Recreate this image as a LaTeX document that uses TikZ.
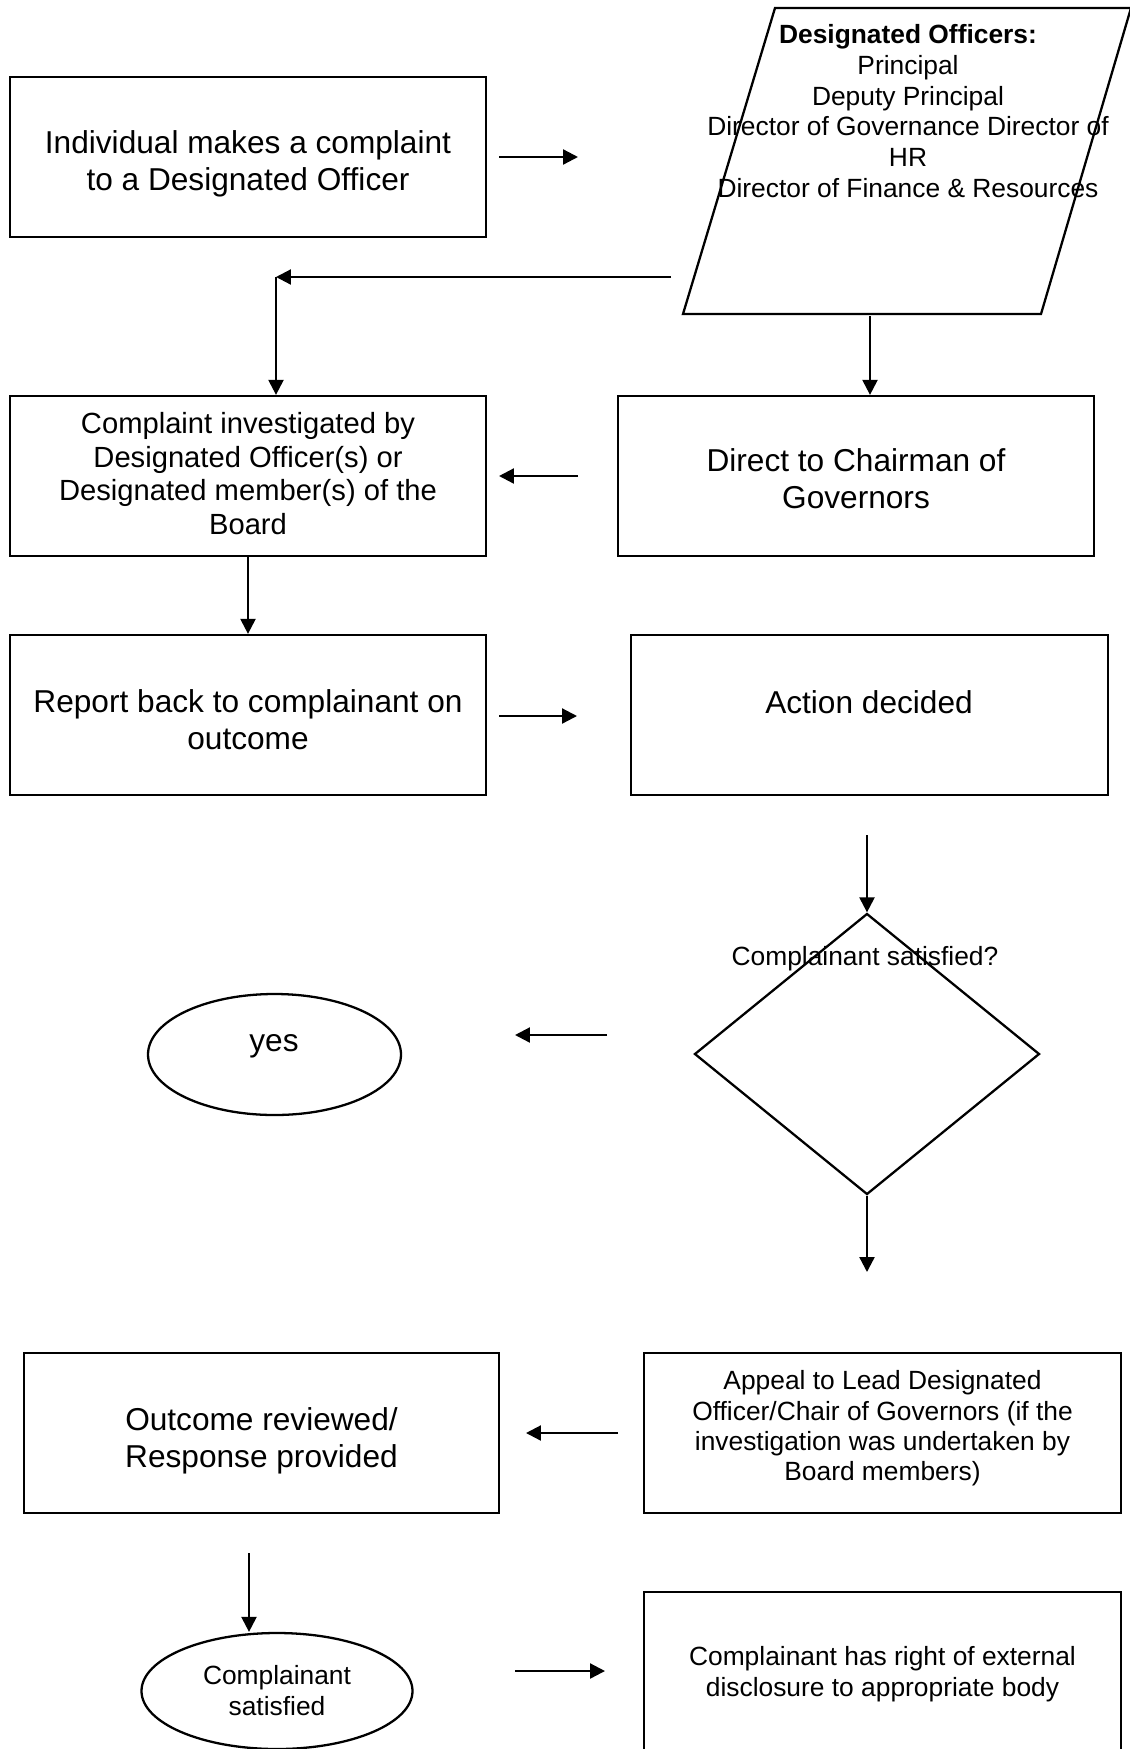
\documentclass[tikz,border=0pt]{standalone}
\usepackage{fontspec}
\setmainfont{Liberation Sans}
\usetikzlibrary{arrows.meta,positioning,shapes.geometric}
\tikzset{
	box/.style={draw,line width=1.3pt,minimum width=9.52cm,minimum height=3.2cm,inner sep=0pt},
	flow/.style={line width=1.3pt,-{Triangle[length=8.5pt,width=8.5pt]}},
	oval/.style={draw,ellipse,line width=1.3pt,inner sep=0pt,align=center},
	choice/.style={draw,diamond,line width=1.3pt,inner sep=0pt},
	bigtxt/.style={align=center,inner sep=0pt,font=\fontsize{18}{21}\selectfont},
	smalltxt/.style={align=center,inner sep=0pt,font=\fontsize{15}{17.5}\selectfont}
}

\begin{document}
\begin{tikzpicture}
	\useasboundingbox (0,0) rectangle (22.6,-34.98);
	
	% -------------------------------------------------
	% 1. Complaint and designated officers
	% -------------------------------------------------
	\node[box] (indiv) at (4.96,-3.14) {};
	\node[bigtxt] (indivtxt) at (4.96,-3.27) {Individual makes a complaint\\to a Designated Officer};
	
	\coordinate (dtl) at (15.5,-0.16);
	\coordinate (dtr) at (22.62,-0.16);
	\coordinate (dbr) at (20.82,-6.28);
	\coordinate (dbl) at (13.66,-6.28);
	\draw[line width=1.3pt] (dtl) -- (dtr) -- (dbr) -- (dbl) -- cycle;
	\node[smalltxt] (desig) at (18.16,-2.22) {\textbf{Designated Officers:}\\Principal\\Deputy Principal\\Director of Governance Director of\\HR\\Director of Finance \& Resources};
	
	\coordinate (a1s) at (9.98,-3.14);
	\coordinate (a1e) at (11.56,-3.14);
	\draw[flow] (a1s) -- (a1e);
	
	% -------------------------------------------------
	% 2. Investigation
	% -------------------------------------------------
	\node[box] (invest) at (4.96,-9.52) {};
	\node[bigtxt,font=\fontsize{16.6}{19}\selectfont] (investtxt) at (4.96,-9.47) {Complaint investigated by\\Designated Officer(s) or\\Designated member(s) of the\\Board};
	\node[box] (chair) at (17.12,-9.52) {};
	\node[bigtxt] (chairtxt) at (17.12,-9.58) {Direct to Chairman of\\Governors};
	
	\coordinate (a2s) at (13.42,-5.54);
	\coordinate (a2e) at (5.52,-5.54);
	\draw[flow] (a2s) -- (a2e);
	\draw[flow] (a2e) -- (a2e |- invest.north);
	
	\coordinate (a4s) at (17.4,-6.32);
	\draw[flow] (a4s) -- (a4s |- chair.north);
	
	\coordinate (a5s) at (11.56,-9.52);
	\coordinate (a5e) at (9.98,-9.52);
	\draw[flow] (a5s) -- (a5e);
	
	% -------------------------------------------------
	% 3. Report and action
	% -------------------------------------------------
	\node[box] (report) at (4.96,-14.3) {};
	\node[bigtxt] (reporttxt) at (4.96,-14.39) {Report back to complainant on\\outcome};
	\node[box,minimum width=9.54cm] (action) at (17.39,-14.3) {};
	\node[bigtxt] (actiontxt) at (17.38,-14.04) {Action decided};
	
	\draw[flow] (invest.south) -- (report.north);
	
	\coordinate (a7s) at (9.98,-14.32);
	\coordinate (a7e) at (11.54,-14.32);
	\draw[flow] (a7s) -- (a7e);
	
	% -------------------------------------------------
	% 4. Decision
	% -------------------------------------------------
	\node[choice,minimum width=6.9cm,minimum height=5.62cm] (decide) at (17.34,-21.08) {};
	\node[smalltxt] (decidetxt) at (17.3,-19.18) {Complainant satisfied?};
	
	\node[oval,minimum width=5.06cm,minimum height=2.42cm] (yes) at (5.49,-21.09) {};
	\node[bigtxt] (yestxt) at (5.48,-20.92) {yes};
	
	\coordinate (a8s) at (17.34,-16.7);
	\draw[flow] (a8s) -- (decide.north);
	
	\coordinate (a9s) at (12.14,-20.7);
	\coordinate (a9e) at (10.3,-20.7);
	\draw[flow] (a9s) -- (a9e);
	
	\coordinate (a10e) at (17.34,-25.44);
	\draw[flow] (decide.south) -- (a10e);
	
	% -------------------------------------------------
	% 5. Appeal
	% -------------------------------------------------
	\node[box,minimum width=9.5cm] (outcome) at (5.23,-28.66) {};
	\node[bigtxt] (outcometxt) at (5.23,-28.81) {Outcome reviewed/\\Response provided};
	\node[box,minimum width=9.54cm] (appeal) at (17.65,-28.66) {};
	\node[smalltxt,font=\fontsize{15}{17.3}\selectfont] (appealtxt) at (17.65,-28.57) {Appeal to Lead Designated\\Officer/Chair of Governors (if the\\investigation was undertaken by\\Board members)};
	
	\coordinate (a11s) at (12.36,-28.66);
	\coordinate (a11e) at (10.52,-28.66);
	\draw[flow] (a11s) -- (a11e);
	
	% -------------------------------------------------
	% 6. Final outcome
	% -------------------------------------------------
	\node[oval,minimum width=5.42cm,minimum height=2.32cm,font=\fontsize{15}{17.6}\selectfont] (satisf) at (5.54,-33.82) {Complainant\\satisfied};
	\node[box,minimum width=9.54cm] (extern) at (17.65,-33.44) {};
	\node[smalltxt,font=\fontsize{15}{17.7}\selectfont] (externtxt) at (17.65,-33.48) {Complainant has right of external\\disclosure to appropriate body};
	
	\coordinate (a12s) at (4.98,-31.06);
	\draw[flow] (a12s) -- (a12s |- satisf.north);
	
	\coordinate (a13s) at (10.3,-33.42);
	\coordinate (a13e) at (12.1,-33.42);
	\draw[flow] (a13s) -- (a13e);
	
\end{tikzpicture}
\end{document}
